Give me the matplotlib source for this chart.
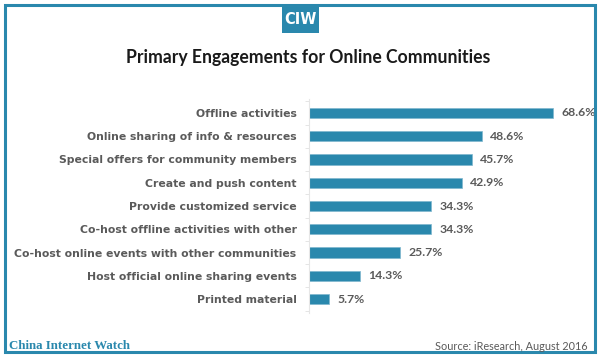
import matplotlib
matplotlib.use("Agg")
import matplotlib.pyplot as plt
from matplotlib.patches import Rectangle
import numpy as np

categories = ["Offline activities", "Online sharing of info & resources",
              "Special offers for community members", "Create and push content",
              "Provide customized service", "Co-host offline activities with other",
              "Co-host online events with other communities",
              "Host official online sharing events", "Printed material"]
values = [68.6, 48.6, 45.7, 42.9, 34.3, 34.3, 25.7, 14.3, 5.7]
value_labels = ["68.6%", "48.6%", "45.7%", "42.9%", "34.3%", "34.3%", "25.7%", "14.3%", "5.7%"]

BLUE = "#2a88ad"
GRAY = "#5a5a5a"
W, H = 600, 358
fig = plt.figure(figsize=(6, 3.58), dpi=100)
fig.patch.set_facecolor("white")

# frame
fig.patches.append(Rectangle((5/W, 6/H), 590/W, 347/H, transform=fig.transFigure,
                             fill=False, edgecolor=BLUE, linewidth=2.2))
# CIW box
fig.patches.append(Rectangle((282/W, 1-33/H), 37/W, 28/H, transform=fig.transFigure,
                             facecolor=BLUE, edgecolor="none"))
fig.text(300.5/W, 1-19/H, "CIW", color="white", fontsize=10.5, fontweight="bold",
         family="Liberation Sans Narrow", ha="center", va="center")
fig.text(308/W, 1-57/H, "Primary Engagements for Online Communities", fontsize=12.7,
         fontweight="bold", color="#1a1a1a", family="Lato", ha="center", va="center")

ax_left, ax_right = 309, 309 + 3.557 * 80
ax_top, ax_bot = 99, 313
ax = fig.add_axes([ax_left/W, 1-ax_bot/H, (ax_right-ax_left)/W, (ax_bot-ax_top)/H])
y = list(range(len(categories)))
ax.barh(y, values, height=0.44, color=BLUE, edgecolor="#7fb7cf", linewidth=0.5)
ax.set_xlim(0, 80)
ax.set_ylim(len(categories) - 0.4, -0.6)
ax.set_yticks(y)
ax.set_yticks(np.arange(-0.5, len(categories), 1.0), minor=True)
ax.set_yticklabels(categories, fontsize=7.8, fontweight="bold", color=GRAY, family="DejaVu Sans")
ax.tick_params(axis="y", which="major", length=0, pad=9)
ax.tick_params(axis="y", which="minor", length=3, color="#e0e0e0")
ax.set_xticks([])
for s in ["top", "right", "bottom"]:
    ax.spines[s].set_visible(False)
ax.spines["left"].set_color("#e6e6e6")
for yi, v, lab in zip(y, values, value_labels):
    ax.text(v + 2.3, yi, lab, va="center", ha="left", fontsize=8.8, fontweight="bold",
            color=GRAY, family="Lato")

fig.text(9/W, 1-346/H, "China Internet Watch", fontsize=9.3, fontweight="bold",
         color=BLUE, family="Liberation Serif", ha="left", va="center")
fig.text(588/W, 1-346/H, "Source: iResearch, August 2016", fontsize=7.8,
         color=GRAY, family="Lato", ha="right", va="center")

fig.savefig("out.png", dpi=100, facecolor="white")
